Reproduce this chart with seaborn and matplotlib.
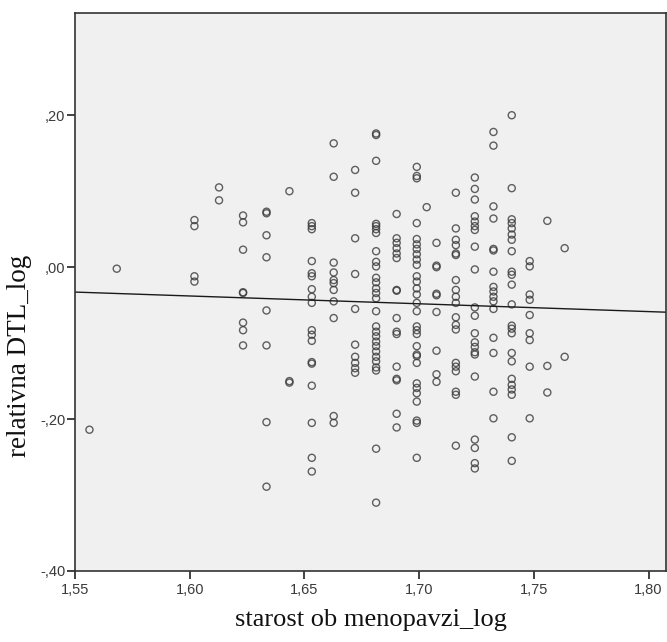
import numpy as np
import pandas as pd
import matplotlib
matplotlib.use("Agg")
import matplotlib.pyplot as plt
from matplotlib.ticker import FuncFormatter, FixedLocator
import seaborn as sns

# Age at menopause (years) for each group of observations
ages = [36, 37, 40, 41, 42, 43, 44, 45, 46, 47, 48, 49, 50, 50.5,
        51, 52, 53, 54, 55, 56, 57, 58]

# relative DTL (log) values observed at each age
dtl_36 = [-0.214]
dtl_37 = [-0.002]
dtl_40 = [0.062, 0.054, -0.012, -0.019]
dtl_41 = [0.105, 0.088]
dtl_42 = [0.068, 0.059, 0.023, -0.033, -0.034, -0.073, -0.083, -0.103]
dtl_43 = [0.073, 0.071, 0.042, 0.013, -0.057, -0.103, -0.204, -0.289]
dtl_44 = [0.100, -0.150, -0.152]
dtl_45 = [0.058, 0.054, 0.050, 0.008, -0.008, -0.012, -0.029, -0.039, -0.047,
          -0.083, -0.089, -0.097, -0.125, -0.127, -0.156, -0.205, -0.251, -0.269]
dtl_46 = [0.163, 0.119, 0.006, -0.007, -0.017, -0.021, -0.030, -0.045, -0.067,
          -0.196, -0.205]
dtl_47 = [0.128, 0.098, 0.038, -0.009, -0.055, -0.102, -0.118, -0.126, -0.133,
          -0.139]
dtl_48 = [0.176, 0.174, 0.140, 0.057, 0.054, 0.050, 0.045, 0.021, 0.007, 0.001,
          -0.014, -0.020, -0.028, -0.034, -0.041, -0.058, -0.078, -0.085, -0.091,
          -0.098, -0.104, -0.111, -0.118, -0.124, -0.132, -0.136, -0.239, -0.310]
dtl_49 = [0.070, 0.038, 0.032, 0.025, 0.018, 0.012, -0.030, -0.031, -0.067,
          -0.085, -0.088, -0.131, -0.147, -0.149, -0.193, -0.211]
dtl_50 = [0.132, 0.120, 0.117, 0.058, 0.037, 0.030, 0.024, 0.017, 0.010, 0.003,
          -0.012, -0.019, -0.028, -0.036, -0.047, -0.058, -0.078, -0.083, -0.088,
          -0.104, -0.115, -0.117, -0.126, -0.153, -0.159, -0.166, -0.177, -0.202,
          -0.205, -0.251]
dtl_50_5 = [0.079]
dtl_51 = [0.032, 0.002, 0.000, -0.035, -0.037, -0.059, -0.110, -0.141, -0.151]
dtl_52 = [0.098, 0.051, 0.036, 0.029, 0.018, 0.016, -0.017, -0.030, -0.039,
          -0.047, -0.066, -0.076, -0.082, -0.126, -0.131, -0.137, -0.164, -0.168,
          -0.235]
dtl_53 = [0.118, 0.103, 0.089, 0.067, 0.060, 0.054, 0.049, 0.027, -0.003, -0.053,
          -0.064, -0.087, -0.099, -0.105, -0.112, -0.115, -0.144, -0.227, -0.238,
          -0.258, -0.265]
dtl_54 = [0.178, 0.160, 0.080, 0.064, 0.024, 0.022, -0.006, -0.026, -0.032,
          -0.039, -0.045, -0.055, -0.093, -0.113, -0.164, -0.199]
dtl_55 = [0.200, 0.104, 0.063, 0.058, 0.051, 0.043, 0.036, 0.021, -0.006, -0.010,
          -0.023, -0.049, -0.077, -0.081, -0.087, -0.113, -0.124, -0.147, -0.155,
          -0.161, -0.168, -0.224, -0.255]
dtl_56 = [0.008, 0.001, -0.036, -0.043, -0.063, -0.087, -0.096, -0.131, -0.199]
dtl_57 = [0.061, -0.130, -0.165]
dtl_58 = [0.025, -0.118]

groups = [dtl_36, dtl_37, dtl_40, dtl_41, dtl_42, dtl_43, dtl_44, dtl_45, dtl_46,
          dtl_47, dtl_48, dtl_49, dtl_50, dtl_50_5, dtl_51, dtl_52, dtl_53, dtl_54,
          dtl_55, dtl_56, dtl_57, dtl_58]

x_ticks = [1.55, 1.60, 1.65, 1.70, 1.75, 1.80]
y_ticks = [-0.40, -0.20, 0.00, 0.20]

df = pd.DataFrame({
    "starost": np.concatenate([[np.log10(a)] * len(g) for a, g in zip(ages, groups)]),
    "dtl": np.concatenate(groups),
})

sns.set_theme(style="white")
plt.rcParams["font.family"] = ["Liberation Sans", "DejaVu Sans"]

fig = plt.figure(figsize=(6.67, 6.42), dpi=100)
ax = fig.add_axes([75 / 667, 1 - 571 / 642, 591 / 667, (571 - 12.7) / 642])
ax.set_facecolor("#f0f0f0")

ax.set_xlim(1.55, 1.8076)
ax.set_ylim(-0.40, 0.335)

sns.regplot(
    data=df, x="starost", y="dtl", ax=ax, ci=None, truncate=False,
    scatter_kws=dict(s=26, facecolors="none", edgecolors="#3a3a3a", linewidths=1.0),
    line_kws=dict(color="#1a1a1a", linewidth=1.0),
    marker="o",
)
ax.set_xlim(1.55, 1.8076)
ax.set_ylim(-0.40, 0.335)


def spss_fmt(v, _pos):
    s = f"{v:.2f}".replace(".", ",")
    if s.startswith("0,"):
        s = s[1:]
    elif s.startswith("-0,"):
        s = "-" + s[2:]
    return s


ax.xaxis.set_major_locator(FixedLocator(x_ticks))
ax.yaxis.set_major_locator(FixedLocator(y_ticks))
ax.xaxis.set_major_formatter(FuncFormatter(spss_fmt))
ax.yaxis.set_major_formatter(FuncFormatter(spss_fmt))

for side in ["left", "right", "top", "bottom"]:
    ax.spines[side].set_color("#333333")
    ax.spines[side].set_linewidth(1.2)

ax.tick_params(axis="both", which="major", direction="out", length=6, width=1.3,
               color="#333333", labelsize=10.5, labelcolor="#3a3a3a",
               bottom=True, left=True, top=False, right=False)
ax.tick_params(axis="y", pad=1)
ax.tick_params(axis="x", pad=3)

serif = ["Liberation Serif", "DejaVu Serif"]
ax.set_xlabel("starost ob menopavzi_log", family=serif, fontsize=19, color="#111111")
ax.set_ylabel("relativna DTL_log", family=serif, fontsize=19.5, color="#111111")
ax.xaxis.set_label_coords(0.5, -0.068)
ax.yaxis.set_label_coords(-0.072, 0.385)

fig.savefig("out.png", dpi=100, facecolor="white")
